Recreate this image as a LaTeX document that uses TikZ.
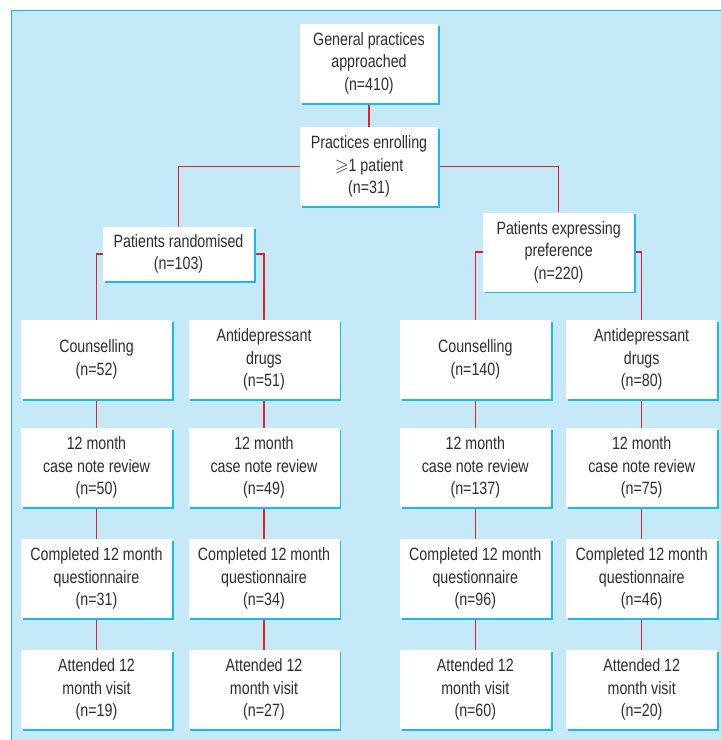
\documentclass[tikz,border=0pt]{standalone}
\usepackage{fontspec}
\usepackage{amssymb}
\setmainfont[FakeStretch=0.8]{Liberation Sans}
\usetikzlibrary{shadows,backgrounds}
\definecolor{bgc}{RGB}{198,233,248}
\definecolor{framec}{RGB}{20,180,235}
\definecolor{shc}{RGB}{25,185,235}
\definecolor{redc}{RGB}{232,30,40}
\definecolor{txtc}{RGB}{45,45,45}
\begin{document}
\begin{tikzpicture}[x=1pt,y=-1pt,
  box/.style={fill=white, text=txtc, font=\fontsize{17.8}{22.5}\selectfont, align=center,
    inner sep=0pt, minimum width=151pt, minimum height=79pt,
    drop shadow={fill=shc, opacity=1, shadow xshift=1.8pt, shadow yshift=-1.8pt}},
  link/.style={draw=redc, line width=1.5pt}]
\useasboundingbox (0,0) rectangle (721,740);

\node[box, minimum width=138pt] (gp) at (369,63.3) {General practices\\approached\\(n=410)};
\node[box, minimum width=138pt] (pe) at (369,166.7) {Practices enrolling\\$\geqslant$1 patient\\(n=31)};
\node[box, minimum height=54pt] (pr) at (178.5,254) {Patients randomised\\(n=103)};
\node[box] (pp) at (558.7,252) {Patients expressing\\preference\\(n=220)};

\node[box] (a1) at (96.5,359.5) {Counselling\\(n=52)};
\node[box] (a2) at (96.5,467.5) {12 month\\case note review\\(n=50)};
\node[box] (a3) at (96.5,578.5) {Completed 12 month\\questionnaire\\(n=31)};
\node[box] (a4) at (96.5,689.5) {Attended 12\\month visit\\(n=19)};

\node[box] (b1) at (264,359.5) {Antidepressant\\drugs\\(n=51)};
\node[box] (b2) at (264,467.5) {12 month\\case note review\\(n=49)};
\node[box] (b3) at (264,578.5) {Completed 12 month\\questionnaire\\(n=34)};
\node[box] (b4) at (264,689.5) {Attended 12\\month visit\\(n=27)};

\node[box] (c1) at (475.3,359.5) {Counselling\\(n=140)};
\node[box] (c2) at (475.3,467.5) {12 month\\case note review\\(n=137)};
\node[box] (c3) at (475.3,578.5) {Completed 12 month\\questionnaire\\(n=96)};
\node[box] (c4) at (475.3,689.5) {Attended 12\\month visit\\(n=60)};

\node[box] (d1) at (641.7,359.5) {Antidepressant\\drugs\\(n=80)};
\node[box] (d2) at (641.7,467.5) {12 month\\case note review\\(n=75)};
\node[box] (d3) at (641.7,578.5) {Completed 12 month\\questionnaire\\(n=46)};
\node[box] (d4) at (641.7,689.5) {Attended 12\\month visit\\(n=20)};

\begin{scope}[on background layer]
\fill[white] (0,0) rectangle (721,740);
\fill[bgc] (11,10) rectangle (721,740);
\draw[framec, line width=1pt] (721,10) -- (11,10) -- (11,740);
\draw[link] (gp.south) -- (pe.north);
\draw[link] (pe.west) -| (pr.north);
\draw[link] (pe.east) -| (pp.north);
\draw[link] (pr.west) -| (a1.north);
\draw[link] (pr.east) -| (b1.north);
\draw[link] (pp.west) -| (c1.north);
\draw[link] (pp.east) -| (d1.north);
\foreach \c in {a,b,c,d}{
  \draw[link] (\c1.south) -- (\c2.north);
  \draw[link] (\c2.south) -- (\c3.north);
  \draw[link] (\c3.south) -- (\c4.north);
}
\end{scope}
\end{tikzpicture}
\end{document}
